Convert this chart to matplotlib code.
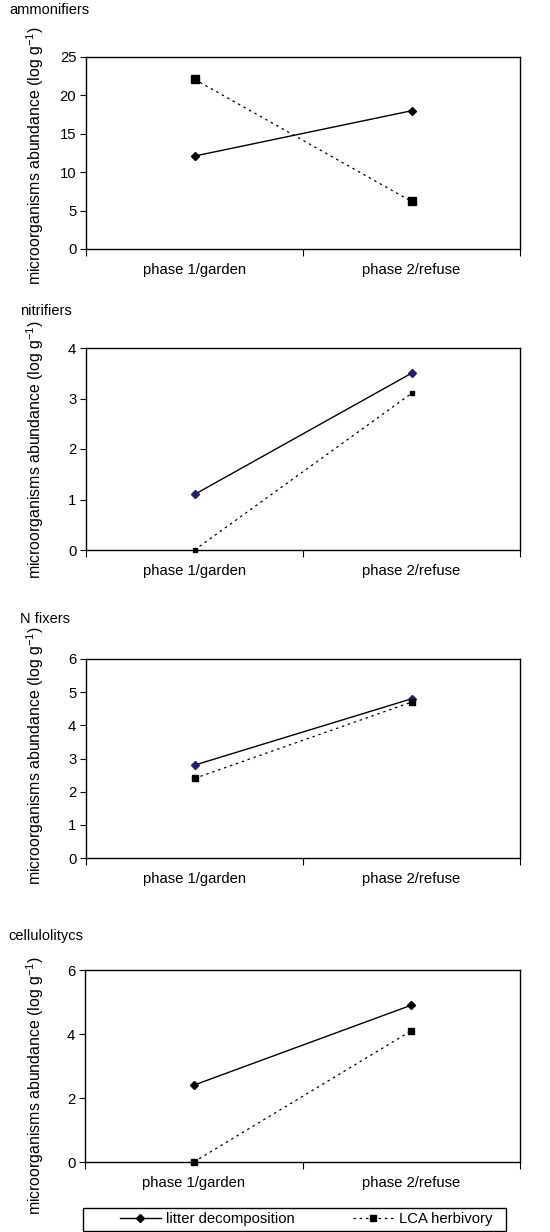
#!/usr/bin/env python3
"""Four stacked panels: microorganism abundance in phase 1 vs phase 2."""
import matplotlib

matplotlib.use("Agg")
import matplotlib.pyplot as plt
from matplotlib.lines import Line2D
from matplotlib.patches import Rectangle

plt.rcParams["font.family"] = ["Liberation Sans", "DejaVu Sans"]
plt.rcParams["mathtext.fontset"] = "custom"
plt.rcParams["mathtext.rm"] = "Liberation Sans"
plt.rcParams["mathtext.it"] = "Liberation Sans:italic"

phases = ["phase 1/garden", "phase 2/refuse"]
groups = ["ammonifiers", "nitrifiers", "N fixers", "cellulolitycs"]
litter = [[12.1, 18.0], [1.1, 3.5], [2.8, 4.8], [2.4, 4.9]]
lca = [[22.1, 6.2], [0.0, 3.1], [2.4, 4.7], [0.0, 4.1]]
ymax = [25, 4, 6, 6]
ystep = [5, 1, 1, 2]

W, H = 550, 1232
# axes boxes in pixels: left, top, right, bottom
boxes = [(86, 57, 520, 249), (86, 348, 520, 550),
         (86, 659, 520, 858), (85, 970, 520, 1162)]
title_pos = [(9, 10), (20, 311), (20, 619), (8, 936)]
ylabel_y = [156, 450, 756, 1086]
diamond_col = ["black", "#241f6b", "#241f6b", "black"]
square_ms = [5.5, 3, 4, 5]

fig = plt.figure(figsize=(W / 100, H / 100), dpi=100)

for i, g in enumerate(groups):
    l, t, r, b = boxes[i]
    ax = fig.add_axes([l / W, 1 - b / H, (r - l) / W, (b - t) / H])
    x = range(len(phases))
    ax.plot(x, litter[i], color="black", lw=1.0, marker="D", ms=4.2,
            mfc=diamond_col[i], mec=diamond_col[i], clip_on=False, zorder=3)
    ax.plot(x, lca[i], color="black", lw=0.9, ls=(0, (2, 3)), marker="s",
            ms=square_ms[i], mfc="black", mec="black", clip_on=False,
            zorder=3)
    ax.set_xlim(-0.5, 1.5)
    ax.set_ylim(0, ymax[i])
    ax.set_yticks(range(0, ymax[i] + 1, ystep[i]))
    ax.set_xticks([-0.5, 0.5, 1.5])
    ax.set_xticklabels([])
    ax.set_xticks([0, 1], minor=True)
    ax.set_xticklabels(phases, minor=True)
    ax.tick_params(axis="x", which="minor", length=0, pad=10, labelsize=10.7)
    ax.tick_params(axis="x", which="major", length=5, direction="out")
    ax.tick_params(axis="y", length=4, direction="out", labelsize=10.7, pad=3)
    for s in ax.spines.values():
        s.set_linewidth(1.0)
    fig.text(title_pos[i][0] / W, 1 - title_pos[i][1] / H, g,
             fontsize=10.5, ha="left", va="center")
    fig.text(35 / W, 1 - ylabel_y[i] / H,
             "microorganisms abundance (log g$^{-1}$)",
             rotation=90, fontsize=11.4, ha="center", va="center")

# legend frame and entries
fig.add_artist(Rectangle((83 / W, 1 - 1231 / H), 423 / W, 23 / H,
                         transform=fig.transFigure, fill=False,
                         edgecolor="black", lw=1.0))
handles = [
    Line2D([], [], color="black", lw=1.0, marker="D", ms=4.2),
    Line2D([], [], color="black", lw=0.9, ls=(0, (2, 3)), marker="s", ms=5),
]
fig.legend(handles, ["litter decomposition", "LCA herbivory"],
           loc="center", ncol=2, fontsize=10.7, frameon=False,
           borderpad=0, handlelength=2.75, handletextpad=0.35,
           columnspacing=3.9, bbox_to_anchor=(306 / W, 1 - 1219 / H))

fig.savefig("out.png", dpi=100)
